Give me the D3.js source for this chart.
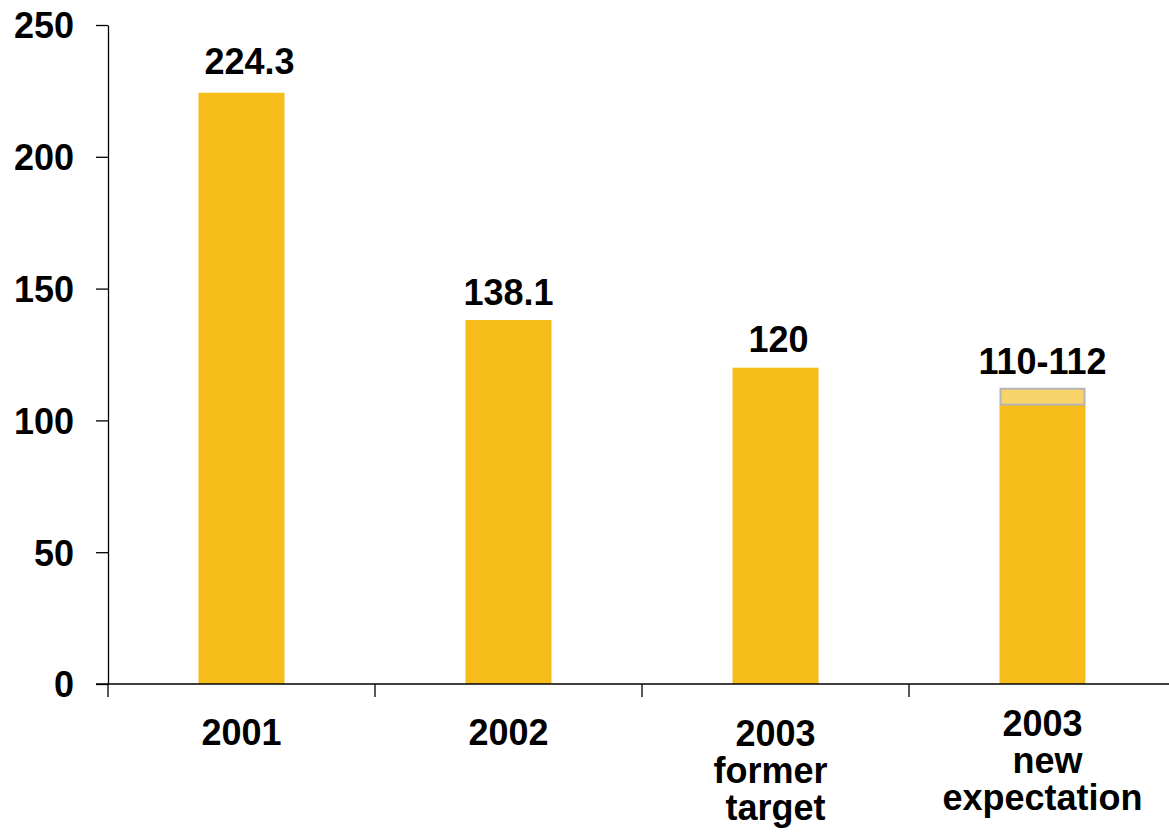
<!DOCTYPE html>
<html>
<head>
<meta charset="utf-8">
<script src="https://cdn.jsdelivr.net/npm/d3@7"></script>
<style>
  body { margin: 0; background: #fff; }
  text { font-family: "Liberation Sans", Arial, sans-serif; font-weight: bold; fill: #000; }
</style>
</head>
<body>
<svg id="chart" width="1169" height="838"></svg>
<script>
// data
const categories = ["2001", "2002", "2003 former target", "2003 new expectation"];
const categoryLines = [["2001"], ["2002"], ["2003", "former\u00a0", "target"], ["2003", "\u00a0new", "expectation"]];
const values = [224.3, 138.1, 120, 106];
const rangeTop = [null, null, null, 112];   // upper end of the expected range
const valueLabels = ["224.3", "138.1", "120", "110-112"];
const yTicks = [0, 50, 100, 150, 200, 250];

const svg = d3.select("#chart");
const margin = {top: 25, left: 108, bottom: 154};
const width = 1169, height = 838;
const barColor = "#F5BC1A";
const fontSize = 36;

const y = d3.scaleLinear().domain([0, 250]).range([height - margin.bottom, margin.top]);
const x = d3.scaleBand().domain(categories).range([margin.left, margin.left + 4 * 267]).padding(0);
const barW = 86;

// bars
svg.selectAll("rect.bar")
    .data(categories)
    .enter()
    .append("rect")
    .attr("class", "bar")
    .attr("x", d => x(d) + x.bandwidth() / 2 - barW / 2)
    .attr("width", barW)
    .attr("y", (d, i) => y(values[i]))
    .attr("height", (d, i) => y(0) - y(values[i]))
    .attr("fill", barColor);

// range box on top of the last bar
categories.forEach((c, i) => {
    if (rangeTop[i] == null) return;
    svg.append("rect")
        .attr("x", x(c) + x.bandwidth() / 2 - barW / 2 + 1)
        .attr("width", barW - 2)
        .attr("y", y(rangeTop[i]))
        .attr("height", y(values[i]) - y(rangeTop[i]))
        .attr("fill", "#F9D46B")
        .attr("stroke", "#B5B5B5")
        .attr("stroke-width", 2);
});

// value labels (small nudges to sit like the original)
const valDx = [8, 0, 3, 0];
const valGap = [19, 15, 16, 15];
svg.selectAll("text.val")
    .data(categories)
    .enter()
    .append("text")
    .attr("class", "val")
    .attr("x", (d, i) => x(d) + x.bandwidth() / 2 + valDx[i])
    .attr("y", (d, i) => y(rangeTop[i] != null ? rangeTop[i] : values[i]) - valGap[i])
    .attr("text-anchor", "middle")
    .style("font-size", fontSize + "px")
    .text((d, i) => valueLabels[i]);

// y axis
const yAxis = d3.axisLeft(y)
    .tickValues(yTicks)
    .tickSize(12)
    .tickSizeOuter(0)
    .tickPadding(22);

const gy = svg.append("g")
    .attr("transform", `translate(${margin.left},0)`)
    .call(yAxis);
gy.select(".domain").attr("stroke", "#000").attr("stroke-width", 1.3);
gy.selectAll(".tick line").attr("stroke", "#000").attr("stroke-width", 1.3);
gy.selectAll(".tick text")
    .attr("dy", "0.36em")
    .style("font-size", fontSize + "px")
    .style("font-family", "'Liberation Sans', Arial, sans-serif")
    .style("font-weight", "bold")
    .attr("fill", "#000");

// x axis line and boundary ticks
svg.append("line")
    .attr("x1", margin.left - 12).attr("x2", width)
    .attr("y1", y(0)).attr("y2", y(0))
    .attr("stroke", "#000").attr("stroke-width", 1.3);

svg.selectAll("line.xtick")
    .data(categories)
    .enter()
    .append("line")
    .attr("class", "xtick")
    .attr("x1", d => x(d)).attr("x2", d => x(d))
    .attr("y1", y(0)).attr("y2", y(0) + 13)
    .attr("stroke", "#000").attr("stroke-width", 1.3);

// category labels
const labelShift = [0, 0, 1, -9];
const catText = svg.selectAll("text.cat")
    .data(categories)
    .enter()
    .append("text")
    .attr("class", "cat")
    .attr("text-anchor", "middle")
    .style("font-size", fontSize + "px")
    .attr("transform", (d, i) => `translate(${x(d) + x.bandwidth() / 2},${y(0) + 61 + labelShift[i]})`);

catText.each(function(d, i) {
    d3.select(this).selectAll("tspan")
        .data(categoryLines[i])
        .enter()
        .append("tspan")
        .attr("x", 0)
        .attr("dy", (t, j) => j === 0 ? 0 : 37)
        .text(t => t);
});
</script>
</body>
</html>
